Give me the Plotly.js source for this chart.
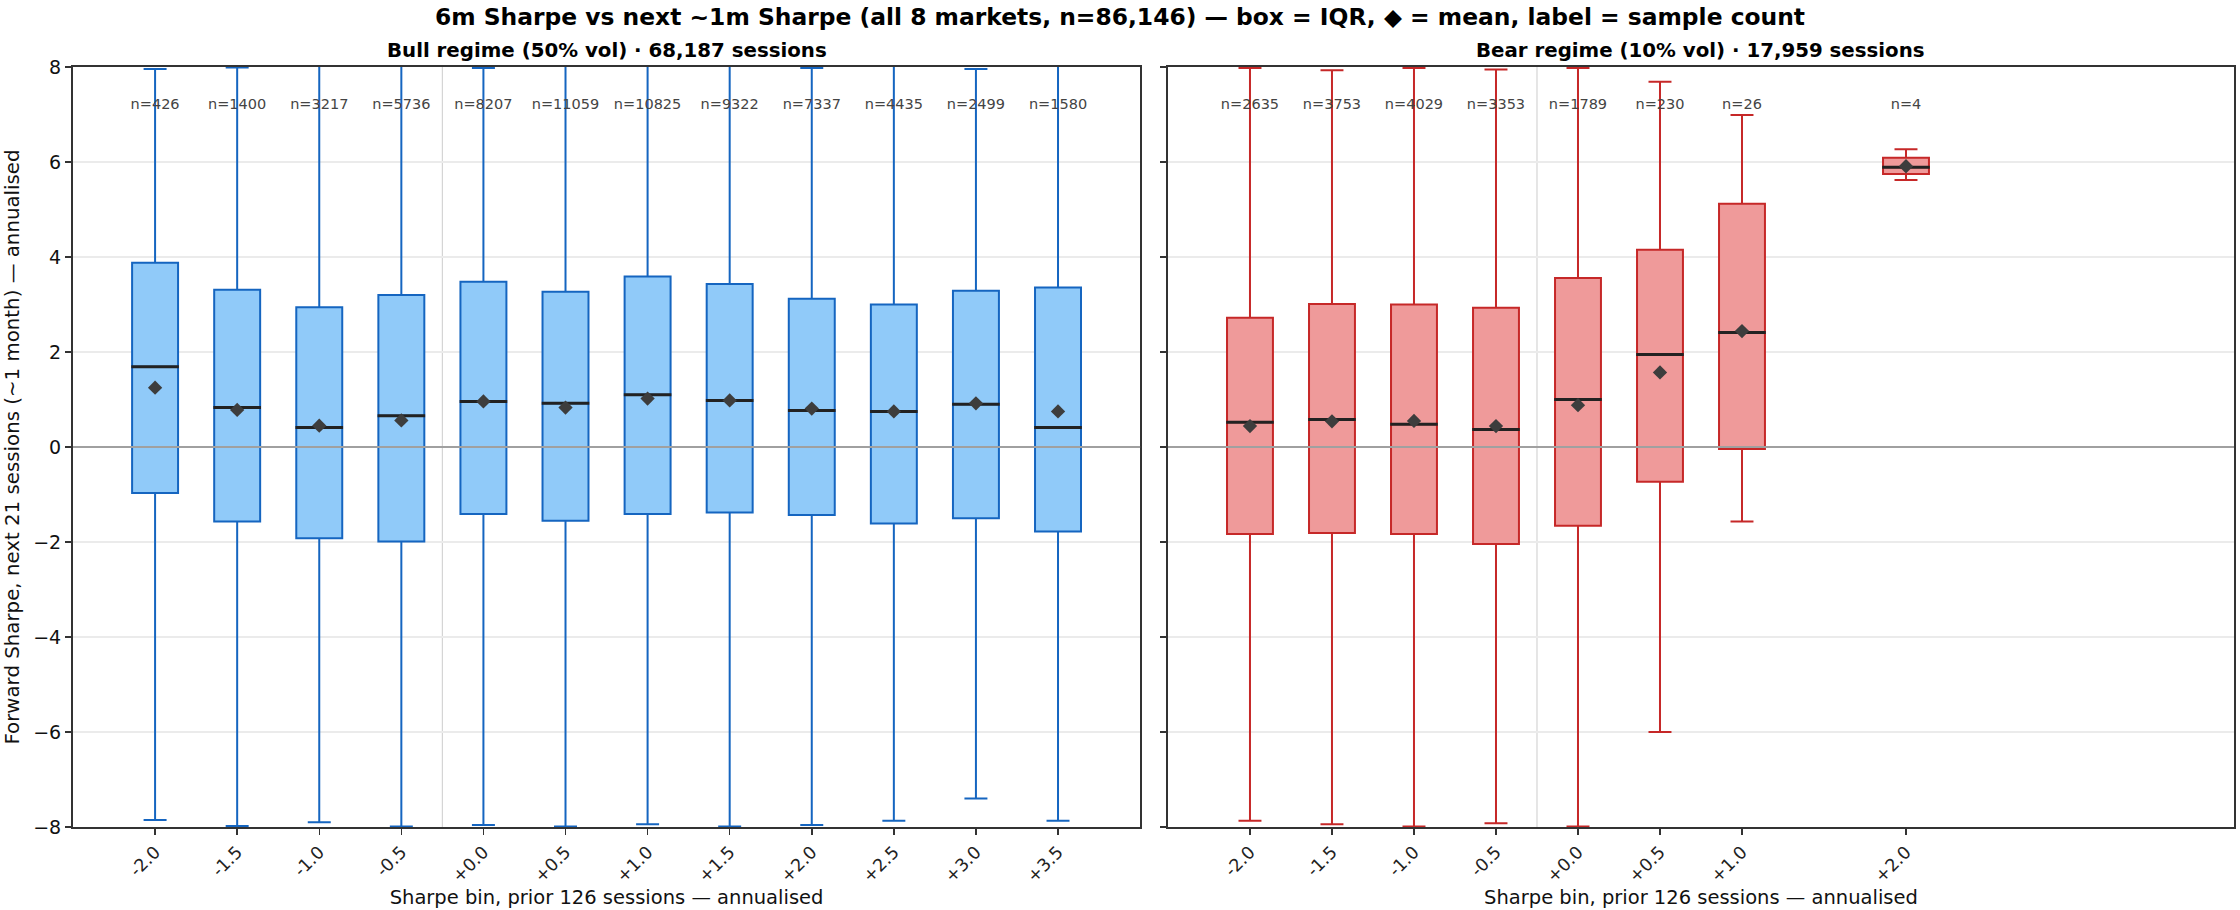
<!DOCTYPE html>
<html>
<head>
<meta charset="utf-8">
<script src="https://cdn.plot.ly/plotly-3.0.1.min.js"></script>
<style>
  html, body { margin: 0; padding: 0; background: #fff; }
  #plot { width: 2240px; height: 910px; }
</style>
</head>
<body>
<div id="plot"></div>
<script>
// prior 6m Sharpe bins (x) and forward ~1m Sharpe stats
var bullBins   = [-2.0, -1.5, -1.0, -0.5, 0.0, 0.5, 1.0, 1.5, 2.0, 2.5, 3.0, 3.5];
var bullQ1     = [-0.97, -1.57, -1.92, -1.99, -1.41, -1.55, -1.41, -1.38, -1.43, -1.61, -1.50, -1.78];
var bullMedian = [1.69, 0.83, 0.41, 0.66, 0.96, 0.92, 1.10, 0.98, 0.77, 0.75, 0.90, 0.41];
var bullQ3     = [3.88, 3.31, 2.94, 3.20, 3.48, 3.27, 3.59, 3.43, 3.12, 3.00, 3.29, 3.36];
var bullLo     = [-7.85, -7.98, -7.90, -7.99, -7.96, -7.99, -7.94, -7.99, -7.96, -7.87, -7.40, -7.87];
var bullHi     = [7.96, 7.99, 8.2, 8.2, 7.98, 8.2, 8.2, 8.2, 7.98, 8.2, 7.96, 8.2];
var bullMean   = [1.25, 0.78, 0.45, 0.56, 0.96, 0.83, 1.02, 0.98, 0.81, 0.75, 0.92, 0.75];
var bullN      = [426, 1400, 3217, 5736, 8207, 11059, 10825, 9322, 7337, 4435, 2499, 1580];

var bearBins   = [-2.0, -1.5, -1.0, -0.5, 0.0, 0.5, 1.0, 2.0];
var bearQ1     = [-1.83, -1.81, -1.83, -2.04, -1.66, -0.73, -0.04, 5.75];
var bearMedian = [0.52, 0.58, 0.48, 0.37, 1.00, 1.95, 2.41, 5.89];
var bearQ3     = [2.72, 3.01, 3.00, 2.93, 3.56, 4.15, 5.12, 6.09];
var bearLo     = [-7.87, -7.94, -7.99, -7.92, -7.99, -6.00, -1.57, 5.62];
var bearHi     = [7.98, 7.93, 7.98, 7.95, 7.98, 7.69, 6.99, 6.27];
var bearMean   = [0.44, 0.54, 0.55, 0.44, 0.88, 1.57, 2.44, 5.91];
var bearN      = [2635, 3753, 4029, 3353, 1789, 230, 26, 4];

var BOXW = 0.28;
var FONT = 'DejaVu Sans, Verdana, sans-serif';

function binLabel(b) {
    return (b >= 0 ? '+' : '') + b.toFixed(1);
}

function panel(bins, q1, med, q3, lo, hi, mean, n, fill, edge, xa, ya) {
    var traces = [];
    traces.push({
        type: 'box', x: bins, q1: q1, median: med, q3: q3,
        lowerfence: lo, upperfence: hi,
        width: BOXW, whiskerwidth: 0.5, boxpoints: false,
        fillcolor: fill, line: { color: edge, width: 2 },
        xaxis: xa, yaxis: ya, hoverinfo: 'skip', showlegend: false
    });
    // black median bars
    var mx = [], my = [];
    for (var i = 0; i < bins.length; i++) {
        mx.push(bins[i] - BOXW / 2 - 0.005, bins[i] + BOXW / 2 + 0.005, null);
        my.push(med[i], med[i], null);
    }
    traces.push({
        type: 'scatter', mode: 'lines', x: mx, y: my,
        line: { color: '#222', width: 3 },
        xaxis: xa, yaxis: ya, hoverinfo: 'skip', showlegend: false
    });
    traces.push({
        type: 'scatter', mode: 'markers', x: bins, y: mean,
        marker: { symbol: 'diamond', size: 11, color: '#3d3d3d' },
        xaxis: xa, yaxis: ya, hoverinfo: 'skip', showlegend: false
    });
    traces.push({
        type: 'scatter', mode: 'text', x: bins,
        y: bins.map(function () { return 7.2; }),
        text: n.map(function (v) { return 'n=' + v; }),
        textfont: { family: FONT, size: 14.5, color: '#444' },
        textposition: 'middle center', cliponaxis: false,
        xaxis: xa, yaxis: ya, hoverinfo: 'skip', showlegend: false
    });
    return traces;
}

var data = [].concat(
    panel(bullBins, bullQ1, bullMedian, bullQ3, bullLo, bullHi, bullMean, bullN,
          '#90CAF9', '#1565C0', 'x', 'y'),
    panel(bearBins, bearQ1, bearMedian, bearQ3, bearLo, bearHi, bearMean, bearN,
          '#EF9A9A', '#C62828', 'x2', 'y2')
);

function xAxis(bins, domain, anchor) {
    return {
        domain: domain, anchor: anchor, range: [-2.5, 4.0],
        tickvals: bins, ticktext: bins.map(binLabel), tickangle: -45,
        tickfont: { family: FONT, size: 17.5, color: '#222' },
        ticks: 'outside', ticklen: 6, tickwidth: 1.5, tickcolor: '#333',
        showgrid: false, zeroline: false,
        showline: true, linecolor: '#333', linewidth: 2, mirror: true,
        title: { text: 'Sharpe bin, prior 126 sessions — annualised',
                 font: { family: FONT, size: 19.5, color: '#111' }, standoff: 4 }
    };
}

function yAxis(anchor, labels) {
    var ax = {
        anchor: anchor, range: [-8, 8], dtick: 2, tick0: 0,
        tickfont: { family: FONT, size: 19, color: '#111' },
        ticks: 'outside', ticklen: 6, tickwidth: 1.5, tickcolor: '#333',
        showticklabels: labels,
        showgrid: true, gridcolor: '#ebebeb', gridwidth: 1.5,
        zeroline: false,
        showline: true, linecolor: '#333', linewidth: 2, mirror: true
    };
    if (labels) {
        ax.title = { text: 'Forward Sharpe, next 21 sessions (~1 month) — annualised',
                     font: { family: FONT, size: 19.8, color: '#111' }, standoff: 8 };
    }
    return ax;
}

var layout = {
    width: 2240, height: 910,
    margin: { l: 73, r: 6, t: 67, b: 83 },
    paper_bgcolor: '#fff', plot_bgcolor: '#fff',
    font: { family: FONT },
    title: {
        text: '<b>6m Sharpe vs next ~1m Sharpe (all 8 markets, n=86,146) — box = IQR, ◆ = mean, label = sample count</b>',
        font: { family: FONT, size: 23.4, color: '#000' },
        x: 0.5, xanchor: 'center', y: 0.981, yanchor: 'middle'
    },
    xaxis: xAxis(bullBins, [0, 0.4938], 'y'),
    yaxis: yAxis('x', true),
    xaxis2: xAxis(bearBins, [0.5067, 1], 'y2'),
    yaxis2: yAxis('x2', false),
    annotations: [
        { text: '<b>Bull regime (50% vol) · 68,187 sessions</b>', xref: 'x domain', yref: 'paper',
          x: 0.5, y: 1, xanchor: 'center', yanchor: 'bottom', yshift: 3, showarrow: false,
          font: { family: FONT, size: 19.8, color: '#000' } },
        { text: '<b>Bear regime (10% vol) · 17,959 sessions</b>', xref: 'x2 domain', yref: 'paper',
          x: 0.5, y: 1, xanchor: 'center', yanchor: 'bottom', yshift: 3, showarrow: false,
          font: { family: FONT, size: 19.8, color: '#000' } }
    ],
    shapes: [
        { type: 'line', xref: 'x', yref: 'y domain', x0: -0.25, x1: -0.25, y0: 0, y1: 1,
          line: { color: '#d4d4d4', width: 1.2 }, layer: 'below' },
        { type: 'line', xref: 'x2', yref: 'y2 domain', x0: -0.25, x1: -0.25, y0: 0, y1: 1,
          line: { color: '#d4d4d4', width: 1.2 }, layer: 'below' },
        { type: 'line', xref: 'x domain', yref: 'y', x0: 0, x1: 1, y0: 0, y1: 0,
          line: { color: '#a0a0a0', width: 1.8 }, layer: 'above' },
        { type: 'line', xref: 'x2 domain', yref: 'y2', x0: 0, x1: 1, y0: 0, y1: 0,
          line: { color: '#a0a0a0', width: 1.8 }, layer: 'above' }
    ]
};

Plotly.newPlot('plot', data, layout, { displayModeBar: false, staticPlot: true });
</script>
</body>
</html>
